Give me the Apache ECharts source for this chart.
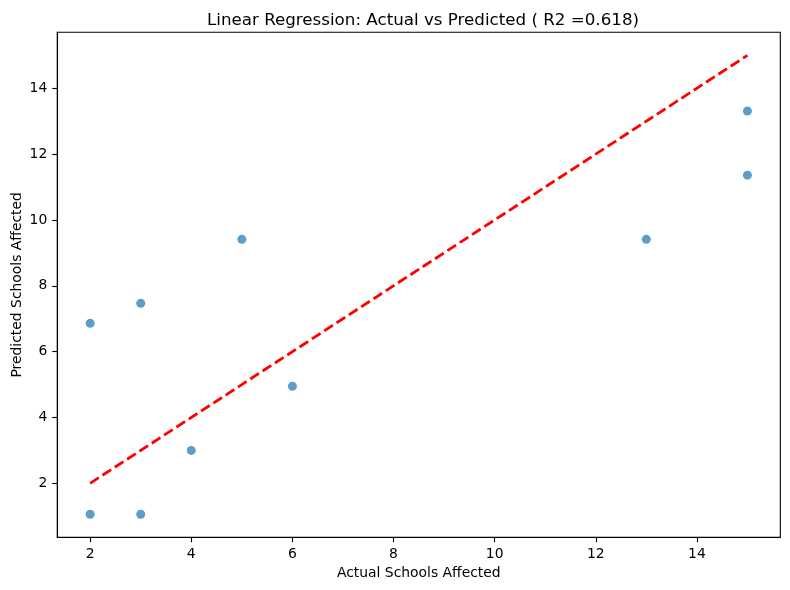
<!DOCTYPE html>
<html>
<head>
<meta charset="utf-8">
<script src="https://cdn.jsdelivr.net/npm/echarts@6/dist/echarts.min.js"></script>
<style>
  html, body { margin: 0; padding: 0; background: #fff; }
  #chart { width: 790px; height: 590px; }
</style>
</head>
<body>
<div id="chart"></div>
<script>
// values
const actual = [2, 2, 3, 3, 4, 5, 6, 13, 15, 15];
const predicted = [1.06, 6.86, 1.06, 7.47, 3.0, 9.41, 4.95, 9.41, 13.31, 11.36];
const fitX = [2, 15];
const fitY = [2, 15];
const xTicks = [2, 4, 6, 8, 10, 12, 14];
const yTicks = [2, 4, 6, 8, 10, 12, 14];

const font = 'DejaVu Sans';
const points = actual.map((a, i) => [a, predicted[i]]);
const fit = fitX.map((x, i) => [x, fitY[i]]);

const axisCommon = {
  axisLine: { show: true, onZero: false, lineStyle: { color: '#000', width: 1.1 } },
  axisTick: { show: true, inside: false, length: 5, lineStyle: { color: '#000', width: 1.1 } },
  axisLabel: { color: '#000', fontFamily: font, fontSize: 13.9, margin: 10 },
  splitLine: { show: false },
  nameLocation: 'middle',
  nameTextStyle: { color: '#000', fontFamily: font, fontSize: 13.9 }
};

const chart = echarts.init(document.getElementById('chart'));
chart.setOption({
  animation: false,
  backgroundColor: '#fff',
  title: {
    text: 'Linear Regression: Actual vs Predicted ( R2 =0.618)',
    left: 418, textAlign: 'center', top: 7,
    textStyle: { color: '#000', fontFamily: font, fontSize: 16.7, fontWeight: 'normal' }
  },
  grid: {
    left: 57.3, top: 32.3, right: 9.7, bottom: 52.7,
    containLabel: false, outerBoundsMode: 'none',
    show: true, borderColor: '#000', borderWidth: 1.1, backgroundColor: 'transparent'
  },
  xAxis: Object.assign({}, axisCommon, {
    type: 'value', min: 1.35, max: 15.65,
    name: 'Actual Schools Affected', nameGap: 29,
    axisTick: Object.assign({}, axisCommon.axisTick, { customValues: xTicks }),
    axisLabel: Object.assign({}, axisCommon.axisLabel, { customValues: xTicks })
  }),
  yAxis: Object.assign({}, axisCommon, {
    type: 'value', min: 0.36, max: 15.7,
    name: 'Predicted Schools Affected', nameGap: 33, nameRotate: 90,
    nameMoveOverlap: false,
    axisTick: Object.assign({}, axisCommon.axisTick, { customValues: yTicks }),
    axisLabel: Object.assign({}, axisCommon.axisLabel, { customValues: yTicks })
  }),
  series: [
    {
      type: 'scatter',
      data: points,
      symbolSize: 9,
      itemStyle: { color: '#1f77b4', opacity: 0.72 }
    },
    {
      type: 'line',
      data: fit,
      symbol: 'none',
      lineStyle: { color: '#ff0000', width: 2.8, type: [10.3, 4.4] }
    }
  ]
});
</script>
</body>
</html>
